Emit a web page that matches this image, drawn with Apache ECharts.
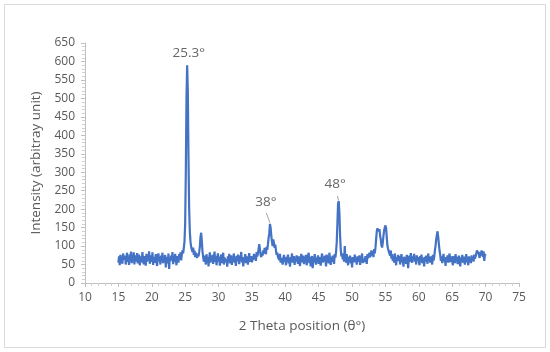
<!DOCTYPE html>
<html><head><meta charset="utf-8">
<script src="https://cdn.jsdelivr.net/npm/echarts@6/dist/echarts.min.js"></script>
<style>html,body{margin:0;padding:0;background:#fff}#c{width:550px;height:352px}</style>
</head><body><div id="c"></div>
<script>
// 2θ scan: starts at 15.0°, step 0.1°
const scanStart = 15.0;
const scanStep = 0.1;
const intensity = [
55,72,48,76,60,68,52,80,63,58,
74,50,67,82,57,71,49,78,62,85,
54,70,61,83,50,75,66,58,81,53,
69,77,48,64,72,56,84,60,51,73,
66,47,79,58,70,62,86,52,68,75,
57,83,49,71,64,55,78,61,46,72,
80,59,67,50,74,63,82,54,69,57,
76,42,65,71,53,80,38,68,59,74,
62,84,51,70,57,79,64,48,73,66,
55,78,68,83,61,76,88,80,95,112,
160,300,500,590,520,340,200,140,112,98,
90,84,96,76,88,70,82,74,68,79,
72,84,98,125,136,112,85,70,58,74,
64,50,78,61,70,45,67,83,55,72,
60,76,52,69,85,57,73,48,66,80,
58,71,47,68,77,54,63,82,50,69,
74,56,65,44,72,60,79,53,67,75,
49,70,62,80,55,66,46,73,59,77,
63,51,74,67,84,56,70,45,68,61,
78,54,66,72,50,69,81,58,64,73,
56,70,62,79,68,75,60,84,72,80,
78,105,92,76,70,82,74,88,80,95,
86,78,98,90,105,122,135,160,150,128,
112,100,118,108,95,104,88,76,82,70,
74,62,79,55,68,72,50,66,76,58,
64,48,71,60,77,53,67,44,70,62,
80,55,66,73,49,69,58,75,61,52,
72,63,46,68,79,56,65,74,51,70,
59,76,48,67,62,82,54,71,45,66,
73,40,64,57,78,60,50,69,63,75,
52,70,61,47,66,80,55,68,58,74,
64,45,77,59,70,53,82,62,49,71,
57,74,65,52,78,69,84,110,160,215,
222,190,130,92,72,80,64,76,58,100,
66,55,78,62,48,71,60,74,53,68,
42,70,63,56,77,59,67,50,72,64,
58,75,49,69,62,80,54,66,71,57,
73,61,52,78,67,64,82,70,76,88,
74,85,70,92,80,95,118,140,148,150,
140,146,128,118,102,96,110,128,142,150,
156,148,122,100,92,85,80,74,88,66,
78,60,72,55,80,66,48,70,62,76,
59,73,50,68,78,56,65,44,71,62,
69,52,76,60,40,67,74,57,81,63,
55,72,64,79,58,68,50,75,61,70,
66,48,73,59,77,54,69,62,45,71,
58,74,63,52,80,60,68,55,72,64,
50,76,61,70,88,100,118,130,140,125,
105,88,76,60,72,54,68,79,58,66,
46,70,62,75,55,68,80,57,64,72,
60,48,73,66,54,78,62,70,51,67,
74,58,45,69,63,76,55,71,60,50,
66,78,57,64,48,72,61,69,54,75,
62,70,58,77,66,72,80,88,92,82,
76,68,84,74,88,92,70,86,60,78,
74
];
// peak annotations: [label x, label y, text]
const peakLabels = [[25.55, 623, '25.3°'], [37.1, 219, '38°'], [47.45, 268, '48°']];
// leader lines: [[x1,y1],[x2,y2]]
const leaders = [[[37.15, 190], [37.7, 163]], [[47.8, 236], [47.97, 224]]];
const xTicks = {min: 10, max: 75, interval: 5};
const yTicks = {min: 0, max: 650, interval: 50};

const lineData = intensity.map((v, i) => [+(scanStart + i * scanStep).toFixed(2), v]);
const leaderSeries = leaders.map(seg => ({
  type: 'line', data: seg, showSymbol: false, silent: true,
  lineStyle: {color: '#A6A6A6', width: 1}, z: 3
}));

const chart = echarts.init(document.getElementById('c'), null, {renderer: 'canvas'});
const gray = '#595959';
chart.setOption({
  animation: false,
  backgroundColor: '#fff',
  grid: {left: 85, right: 31, top: 43, bottom: 69},
  graphic: [{type: 'rect', shape: {x: 4.5, y: 4.5, width: 541, height: 343},
    style: {fill: 'none', stroke: '#D9D9D9', lineWidth: 1}, z: -1}],
  xAxis: {
    type: 'value', min: xTicks.min, max: xTicks.max, interval: xTicks.interval,
    name: '2 Theta position (θ°)', nameLocation: 'middle', nameGap: 36,
    nameTextStyle: {color: gray, fontSize: 13.5, fontFamily: 'Open Sans'},
    axisLine: {lineStyle: {color: '#BFBFBF'}},
    axisTick: {show: true, length: 4, lineStyle: {color: '#BFBFBF'}},
    minorTick: {show: true, splitNumber: 5, length: 3, lineStyle: {color: '#D0D0D0'}},
    axisLabel: {color: gray, fontSize: 12, fontFamily: 'Open Sans', margin: 9},
    splitLine: {show: false}
  },
  yAxis: {
    type: 'value', min: yTicks.min, max: yTicks.max, interval: yTicks.interval,
    name: 'Intensity (arbitray unit)', nameLocation: 'middle', nameGap: 42,
    nameTextStyle: {color: gray, fontSize: 13.5, fontFamily: 'Open Sans'},
    axisLine: {show: true, lineStyle: {color: '#BFBFBF'}},
    axisTick: {show: true, length: 4, lineStyle: {color: '#BFBFBF'}},
    minorTick: {show: true, splitNumber: 5, length: 3, lineStyle: {color: '#D0D0D0'}},
    axisLabel: {color: gray, fontSize: 12, fontFamily: 'Open Sans', margin: 10},
    splitLine: {show: false}
  },
  series: [
    {type: 'line', data: lineData, showSymbol: false, silent: true,
     lineStyle: {color: '#4472C4', width: 2.2}, z: 2},
    ...leaderSeries,
    {type: 'scatter', data: peakLabels.map(p => [p[0], p[1], p[2]]), symbolSize: 0, silent: true,
     label: {show: true, position: 'inside', formatter: p => p.data[2],
       color: '#404040', fontSize: 13.5, fontFamily: 'Open Sans'}, z: 4}
  ]
});
</script></body></html>
